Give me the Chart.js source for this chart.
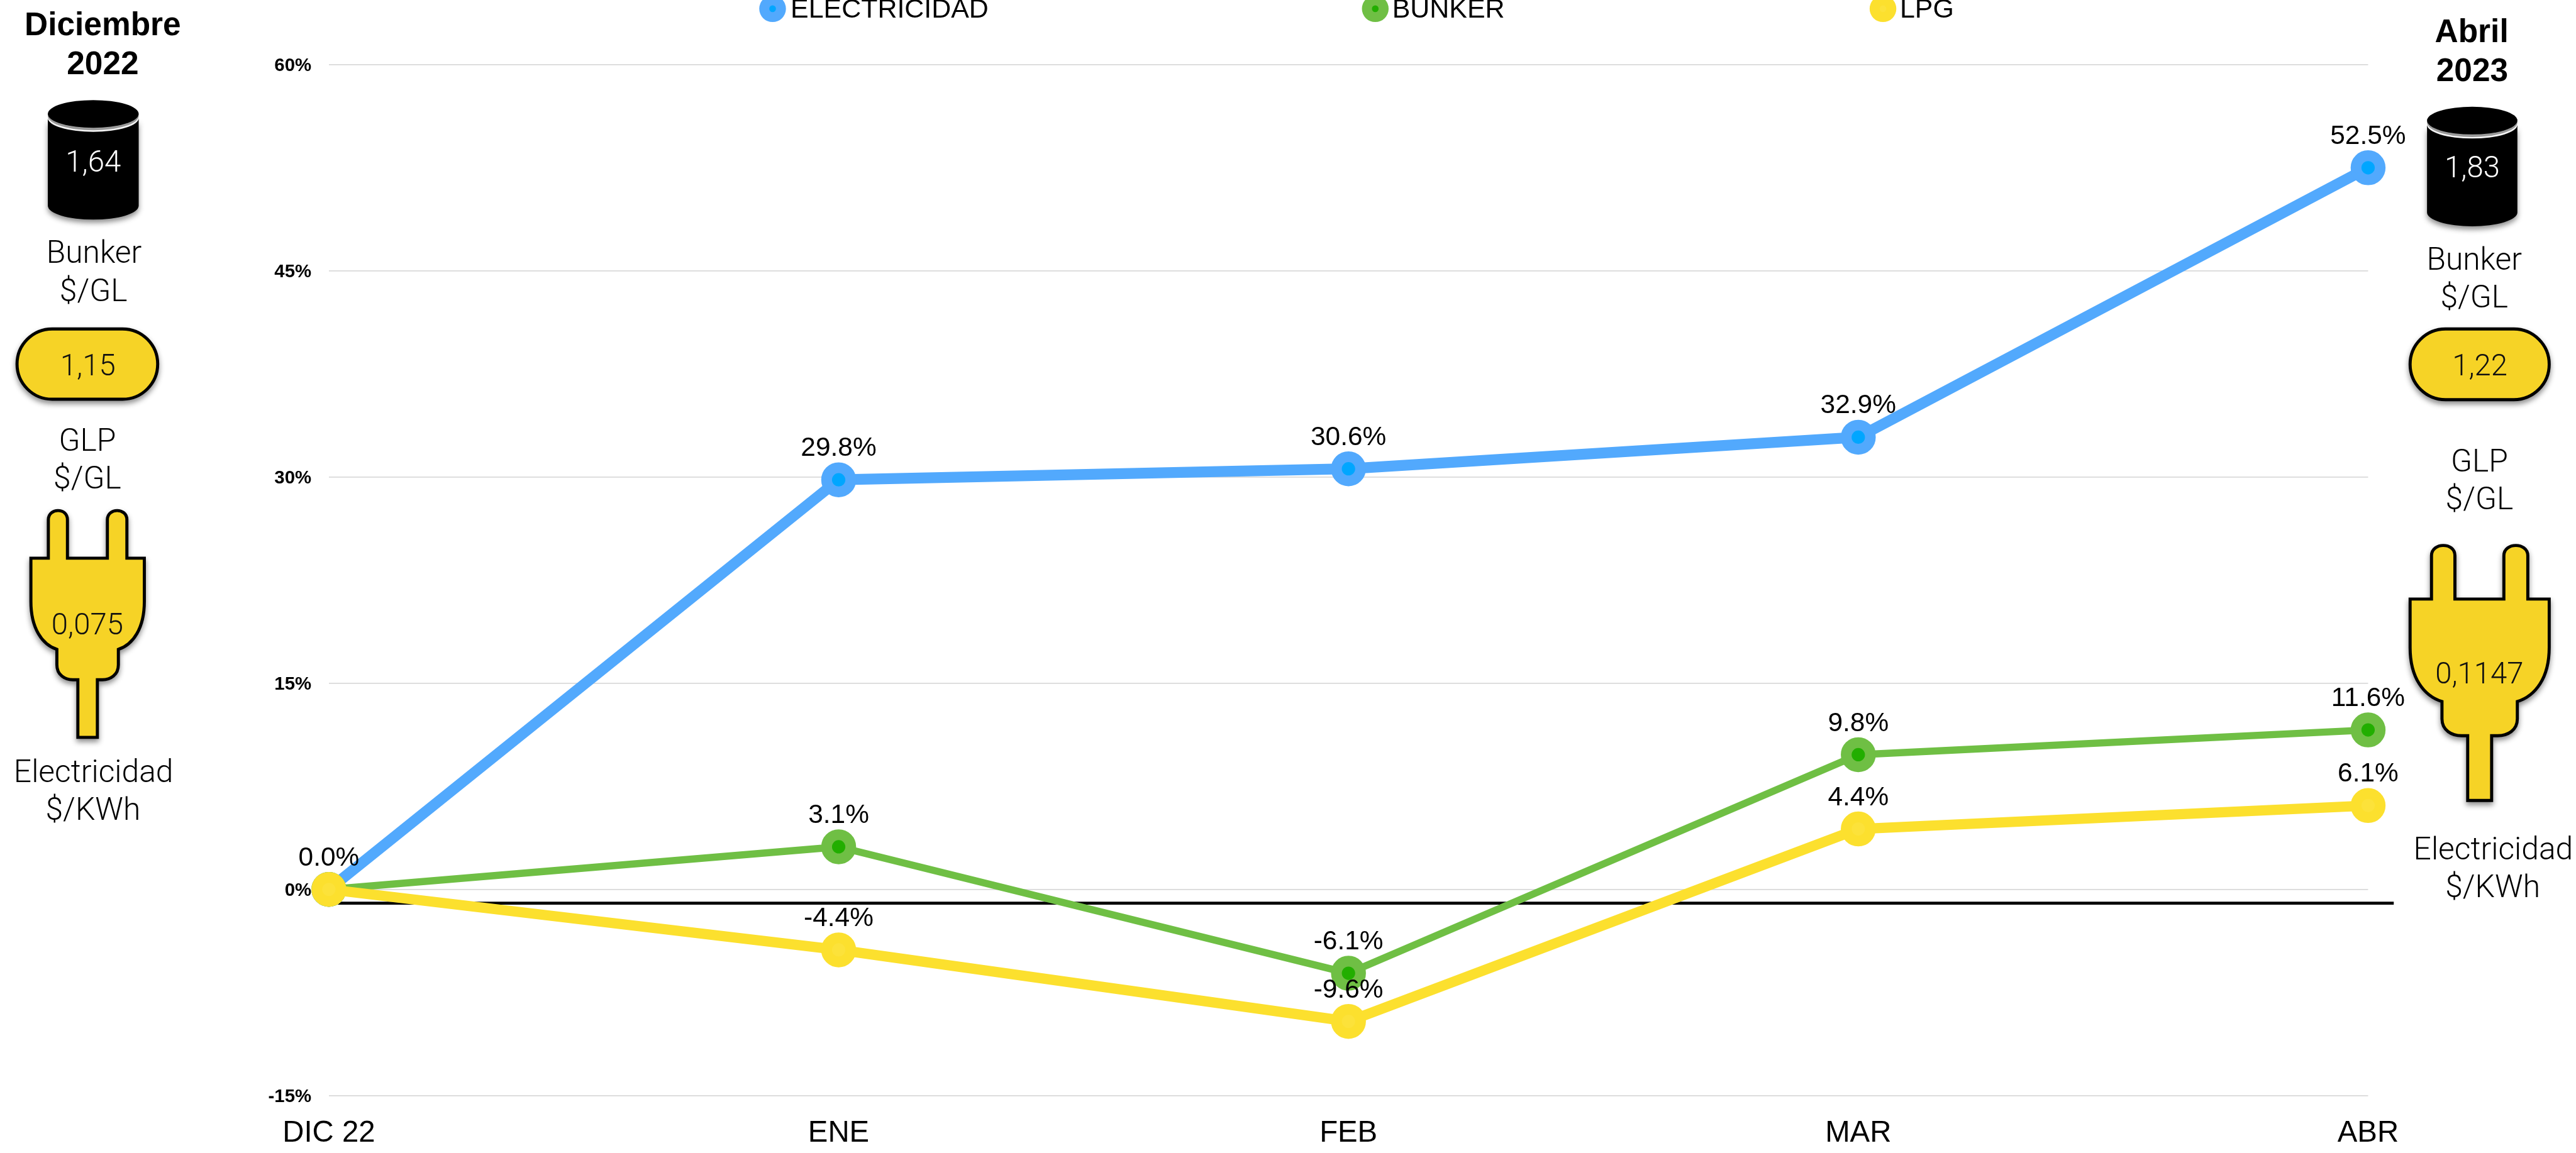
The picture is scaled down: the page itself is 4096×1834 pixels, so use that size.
<!DOCTYPE html>
<html><head><meta charset="utf-8">
<style>
html,body{margin:0;padding:0;background:#fff;width:4096px;height:1834px;overflow:hidden}
#wrap{position:relative;width:4096px;height:1834px}
canvas{position:absolute;left:0;top:0}
svg{position:absolute;left:0;top:0}
.t{font-family:"Roboto","Liberation Sans",sans-serif;font-weight:300;text-anchor:middle}
.b{font-family:"Liberation Sans",sans-serif;font-weight:700;text-anchor:middle}
</style>
<script src="https://cdn.jsdelivr.net/npm/chart.js@4"></script>
</head><body><div id="wrap"><canvas id="c" width="4096" height="1834"></canvas>
<svg id="s" width="4096" height="1834" viewBox="0 0 5018 2247" xmlns="http://www.w3.org/2000/svg"></svg></div>
<script>
const categories = ['DIC 22','ENE','FEB','MAR','ABR'];
const seriesNames = ['ELECTRICIDAD','BUNKER','LPG'];
const electricidad = [0.0,29.8,30.6,32.9,52.5];
const bunker = [0.0,3.1,-6.1,9.8,11.6];
const lpg = [0.0,-4.4,-9.6,4.4,6.1];
const yTicks = [-15,0,15,30,45,60];
const panelLeft = {title:['Diciembre','2022'],bunker:'1,64',glp:'1,15',elec:'0,075'};
const panelRight = {title:['Abril','2023'],bunker:'1,83',glp:'1,22',elec:'0,1147'};

const S = 4096/5018;
const BLUE='#52A9FD', BLUE_IN='#00A6FF', GREEN='#6FBF44', GREEN_IN='#22AE00', YEL='#FCE02E', YEL_IN='#FCE23A';
const FONT='"Liberation Sans", Arial, sans-serif';
const px = v => v*S;

function ds(label,data,color,inner,width,order){
  return {label,data,borderColor:color,backgroundColor:color,borderWidth:px(width),order,clip:false,tension:0,
    pointRadius:px(23.5),pointBorderWidth:px(21),pointBackgroundColor:inner,pointBorderColor:color,
    borderCapStyle:'round',borderJoinStyle:'round',innerColor:inner};
}
const legendX=[1505,2679,3668], legendTextX=[1540,2712,3701];

const decor={id:'decor',
  beforeDatasetsDraw(ch){
    const c=ch.ctx,y=ch.scales.y.getPixelForValue(-1);
    c.save();c.strokeStyle='#000';c.lineWidth=px(6);c.beginPath();
    c.moveTo(ch.chartArea.left,y);c.lineTo(ch.chartArea.right+px(50),y);c.stroke();c.restore();
  },
  afterDatasetsDraw(ch){
    const c=ch.ctx;c.save();
    c.font=px(52)+'px '+FONT;c.fillStyle='#000';c.textAlign='center';c.textBaseline='alphabetic';
    ch.data.datasets.forEach((d,i)=>{
      const m=ch.getDatasetMeta(i);
      d.data.forEach((v,j)=>{
        if(j===0&&i>0)return;
        c.fillText(v.toFixed(1)+'%',m.data[j].x,m.data[j].y-px(46.5));
      });
    });
    ch.data.datasets.forEach((d,i)=>{
      const x=px(legendX[i]),y=px(17);
      c.fillStyle=d.borderColor;c.beginPath();c.arc(x,y,px(26),0,Math.PI*2);c.fill();
      c.fillStyle=d.innerColor;c.beginPath();c.arc(x,y,px(6.5),0,Math.PI*2);c.fill();
      c.fillStyle='#000';c.textAlign='left';c.font=px(52.6)+'px '+FONT;
      c.fillText(d.label,px(legendTextX[i]),px(34));
    });
    c.restore();
  }
};

new Chart(document.getElementById('c'),{
  type:'line',
  data:{labels:categories,datasets:[
    ds(seriesNames[0],electricidad,BLUE,BLUE_IN,21,3),
    ds(seriesNames[1],bunker,GREEN,GREEN_IN,14,2),
    ds(seriesNames[2],lpg,YEL,YEL_IN,20,1)
  ]},
  options:{responsive:false,animation:false,devicePixelRatio:1,
    layout:{padding:{left:0,right:4096-px(4613),top:px(126),bottom:0}},
    plugins:{legend:{display:false},tooltip:{enabled:false},title:{display:false}},
    scales:{
      x:{offset:false,grid:{display:false},border:{display:false},
        ticks:{color:'#000',font:{family:FONT,size:px(58)},padding:px(29),maxRotation:0,autoSkip:false},
        afterFit(s){s.height=1834-px(2135);}},
      y:{min:-15,max:60,
        afterBuildTicks(s){s.ticks=yTicks.map(v=>({value:v}));},
        grid:{color:'#D9D9D9',lineWidth:px(2.2),drawTicks:false},border:{display:false},
        ticks:{color:'#000',font:{family:FONT,size:px(36),weight:'bold'},padding:px(34),labelOffset:px(2.5),callback:v=>v+'%'},
        afterFit(s){s.width=px(640.6);}}
    }
  },
  plugins:[decor]
});

const NS='http://www.w3.org/2000/svg',svg=document.getElementById('s');
function el(n,a,t){const e=document.createElementNS(NS,n);for(const k in a)e.setAttribute(k,a[k]);if(t!=null)e.textContent=t;svg.appendChild(e);return e;}
svg.innerHTML='<defs><filter id="sh" x="-20%" y="-20%" width="140%" height="140%"><feDropShadow dx="0" dy="6" stdDeviation="5" flood-color="#000" flood-opacity="0.45"/></filter></defs>';
function text(s,x,y,size,cls,fill){el('text',{x,y,'font-size':size,class:cls||'t',fill:fill||'#000'},s);}
function barrel(x0,x1,top,bot,rim,val,vy){
  const cx=(x0+x1)/2,rx=(x1-x0)/2,ry=rim,cy=top+ry,by=bot-ry;
  el('path',{d:`M${x0} ${cy+8}L${x0} ${by}A${rx} ${ry} 0 0 0 ${x1} ${by}L${x1} ${cy+8}A${rx} ${ry} 0 0 1 ${x0} ${cy+8}Z`,fill:'#000',filter:'url(#sh)'});
  el('ellipse',{cx,cy:cy+4,rx,ry:ry+1,fill:'#9a9a9a'});
  el('ellipse',{cx,cy,rx,ry,fill:'#000'});
  text(val,cx,vy,58,'t','#fff');
}
function pill(x0,x1,y0,y1,val,vx,vy){
  const sw=6;
  el('rect',{x:x0+sw/2,y:y0+sw/2,width:x1-x0-sw,height:y1-y0-sw,rx:(y1-y0-sw)/2,ry:(y1-y0-sw)/2,fill:'#F6D327',stroke:'#000','stroke-width':sw,filter:'url(#sh)'});
  text(val,vx,vy,58,'t','#111');
}
function plug(x0,x1,y0,y1,val,vx,vy){
  const sw=6,w=x1-x0-sw,h=y1-y0-sw,ox=x0+sw/2,oy=y0+sw/2;
  const P=(a,b)=>(ox+a*w).toFixed(1)+' '+(oy+b*h).toFixed(1);
  const d=`M${P(0,.21)}L${P(.154,.21)}L${P(.154,.04)}C${P(.154,.012)} ${P(.2,0)} ${P(.238,0)}C${P(.28,0)} ${P(.322,.012)} ${P(.322,.04)}L${P(.322,.21)}`+
   `L${P(.674,.21)}L${P(.674,.04)}C${P(.674,.012)} ${P(.72,0)} ${P(.76,0)}C${P(.8,0)} ${P(.846,.012)} ${P(.846,.04)}L${P(.846,.21)}`+
   `L${P(1,.21)}L${P(1,.40)}C${P(1,.52)} ${P(.9,.59)} ${P(.771,.612)}L${P(.771,.68)}C${P(.771,.725)} ${P(.7,.746)} ${P(.63,.746)}L${P(.586,.746)}L${P(.586,1)}`+
   `L${P(.414,1)}L${P(.414,.746)}L${P(.37,.746)}C${P(.3,.746)} ${P(.229,.725)} ${P(.229,.68)}L${P(.229,.612)}C${P(.1,.59)} ${P(0,.52)} ${P(0,.40)}Z`;
  el('path',{d,fill:'#F6D327',stroke:'#000','stroke-width':sw,filter:'url(#sh)'});
  text(val,vx,vy,58,'t','#111');
}
// left panel
text(panelLeft.title[0],200,68,63,'b');text(panelLeft.title[1],200,145,63,'b');
barrel(93,270,195,428,27,panelLeft.bunker,334);
text('Bunker',183,512,61);text('$/GL',182,587,61);
pill(30,310,638,781,panelLeft.glp,171,732);
text('GLP',170,878,61);text('$/GL',170,952,61);
plug(57,284,992,1440,panelLeft.elec,170,1236);
text('Electricidad',182,1524,61);text('$/KWh',181,1598,61);
// right panel
text(panelRight.title[0],4815,81.5,63,'b');text(panelRight.title[1],4816,158,63,'b');
barrel(4728,4904,208,441,27,panelRight.bunker,346);
text('Bunker',4820,525,61);text('$/GL',4820,599,61);
pill(4692,4969,638,782,panelRight.glp,4831,731);
text('GLP',4830,919,61);text('$/GL',4830,992,61);
plug(4692,4969,1060,1563,panelRight.elec,4830,1332);
text('Electricidad',4857,1675,61);text('$/KWh',4856,1748,61);
</script></body></html>
